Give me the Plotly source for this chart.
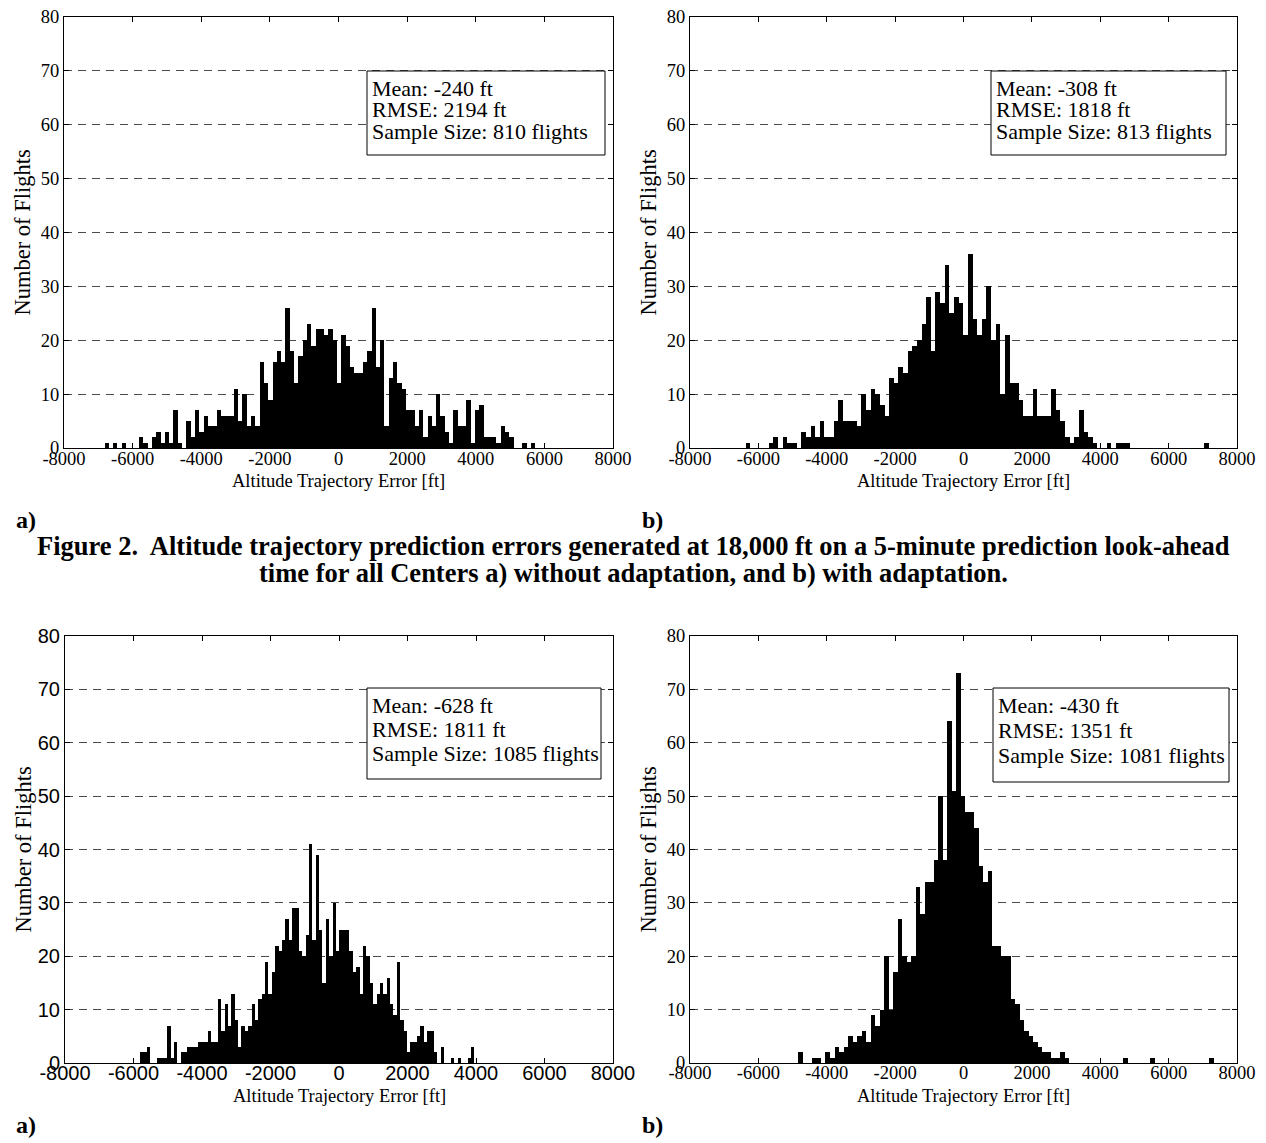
import plotly.graph_objects as go

W, H = 1266, 1143

# ---- histogram data: left edge of first bin [ft], bin width [ft], counts per bin ----
# 18,000 ft, without adaptation
top_a_start, top_a_width = -6818, 125.5
top_a_counts = [1, 0, 1, 0, 1, 0, 0, 0, 2, 1,
                0, 2, 3, 1, 3, 1, 7, 1, 0, 5,
                2, 7, 3, 6, 4, 4, 7, 6, 6, 6,
                11, 5, 10, 4, 6, 4, 16, 12, 9, 16,
                18, 16, 26, 18, 12, 17, 20, 23, 19, 22,
                22, 21, 22, 20, 12, 21, 19, 15, 14, 14,
                16, 18, 26, 15, 20, 4, 13, 16, 12, 11,
                7, 7, 4, 7, 2, 6, 4, 10, 6, 3,
                1, 7, 4, 4, 9, 1, 7, 8, 2, 2,
                2, 1, 4, 3, 2, 0, 0, 1, 0, 1]

# 18,000 ft, with adaptation
top_b_start, top_b_width = -6371, 135.4
top_b_counts = [1, 0, 0, 0, 0, 1, 2, 0, 2, 1,
                1, 0, 3, 2, 4, 2, 5, 2, 2, 5,
                9, 5, 5, 5, 4, 10, 7, 11, 10, 8,
                6, 13, 12, 15, 14, 18, 19, 20, 23, 28,
                18, 29, 27, 34, 25, 28, 27, 21, 36, 24,
                21, 24, 30, 20, 23, 10, 21, 12, 12, 9,
                6, 6, 11, 6, 6, 6, 11, 7, 5, 2,
                1, 2, 7, 3, 2, 1, 0, 0, 1, 0,
                1, 1, 1, 0, 0, 0, 0, 0, 0, 0,
                0, 0, 0, 0, 0, 0, 0, 0, 0, 1]

# second case, without adaptation
bot_a_start, bot_a_width = -5807, 98.6
bot_a_counts = [2, 2, 3, 0, 0, 1, 1, 1, 7, 1,
                4, 0, 2, 2, 3, 3, 3, 4, 4, 4,
                6, 4, 4, 12, 6, 11, 7, 13, 8, 3,
                7, 6, 7, 11, 8, 12, 13, 19, 13, 17,
                22, 21, 23, 27, 23, 29, 29, 21, 20, 24,
                41, 23, 39, 25, 15, 27, 20, 30, 21, 25,
                25, 25, 21, 17, 18, 13, 22, 20, 15, 11,
                13, 15, 13, 16, 11, 9, 19, 8, 6, 2,
                4, 4, 5, 7, 4, 6, 6, 2, 0, 3,
                0, 0, 1, 0, 1, 0, 0, 1, 3, 0]

# second case, with adaptation
bot_b_start, bot_b_width = -4829, 132.0
bot_b_counts = [2, 0, 0, 1, 1, 0, 2, 1, 3, 2,
                3, 5, 4, 5, 6, 4, 9, 7, 10, 20,
                10, 17, 27, 20, 19, 20, 33, 28, 34, 34,
                38, 50, 38, 64, 51, 73, 50, 47, 47, 44,
                37, 34, 36, 22, 22, 20, 20, 12, 11, 8,
                6, 5, 4, 3, 2, 2, 1, 1, 2, 1,
                0, 0, 0, 0, 0, 0, 0, 0, 0, 0,
                0, 0, 1, 0, 0, 0, 0, 0, 1, 0,
                0, 0, 0, 0, 0, 0, 0, 0, 0, 0,
                0, 1]

stat_lines = [
    ["Mean: -240 ft", "RMSE: 2194 ft", "Sample Size: 810 flights"],
    ["Mean: -308 ft", "RMSE: 1818 ft", "Sample Size: 813 flights"],
    ["Mean: -628 ft", "RMSE: 1811 ft", "Sample Size: 1085 flights"],
    ["Mean: -430 ft", "RMSE: 1351 ft", "Sample Size: 1081 flights"],
]

x_ticks = list(range(-8000, 8001, 2000))
x_ticktext = [str(v) for v in x_ticks]
y_ticks = list(range(0, 81, 10))

x_title = "Altitude Trajectory Error [ft]"
y_title = "Number of Flights"
caption_1 = "Figure 2.  Altitude trajectory prediction errors generated at 18,000 ft on a 5-minute prediction look-ahead"
caption_2 = "time for all Centers a) without adaptation, and b) with adaptation."

SERIF = "Liberation Serif, Times New Roman, serif"
SANS = "Liberation Sans, Arial, sans-serif"

# plot areas in pixels: left, top, right, bottom; statistics boxes likewise
panels = [
    dict(start=top_a_start, width=top_a_width, counts=top_a_counts,
         area=(64, 17, 613, 448), legend=(367, 71, 605, 155), first=88, pitch=22,
         tickfont=SERIF, tfs=18.5, standoff=-6),
    dict(start=top_b_start, width=top_b_width, counts=top_b_counts,
         area=(690, 17, 1237, 448), legend=(991, 71, 1226, 155), first=88, pitch=22,
         tickfont=SERIF, tfs=18.5, standoff=-6),
    dict(start=bot_a_start, width=bot_a_width, counts=bot_a_counts,
         area=(65, 636, 613, 1063), legend=(367, 688, 601, 779), first=705, pitch=24,
         tickfont=SANS, tfs=20, standoff=-8),
    dict(start=bot_b_start, width=bot_b_width, counts=bot_b_counts,
         area=(690, 636, 1237, 1063), legend=(993, 688, 1229, 782), first=705, pitch=25,
         tickfont=SERIF, tfs=18.5, standoff=-7),
]


def px(x):
    return x / W


def py(y):
    return 1 - y / H


fig = go.Figure()
annotations = []
shapes = []

for i, p in enumerate(panels, start=1):
    sfx = "" if i == 1 else str(i)
    centers = [p["start"] + (k + 0.5) * p["width"] for k in range(len(p["counts"]))]
    fig.add_trace(go.Bar(
        x=centers, y=p["counts"], width=p["width"],
        marker=dict(color="black", line=dict(width=0)),
        xaxis="x" + sfx, yaxis="y" + sfx,
        showlegend=False, hoverinfo="skip",
    ))
    left, top, right, bottom = p["area"]
    tick_font = dict(family=p["tickfont"], size=p["tfs"], color="black")
    fig.layout["xaxis" + sfx] = dict(
        domain=[px(left), px(right)], range=[-8000, 8000], anchor="y" + sfx,
        tickvals=x_ticks, ticktext=x_ticktext, ticks="inside", ticklen=5,
        tickcolor="black", showline=True, linecolor="black", linewidth=1,
        mirror="ticks", showgrid=False, zeroline=False, tickfont=tick_font,
        ticklabelstandoff=p["standoff"], automargin=False, fixedrange=True,
    )
    fig.layout["yaxis" + sfx] = dict(
        domain=[py(bottom), py(top)], range=[0, 80], anchor="x" + sfx,
        tickvals=y_ticks, ticks="inside", ticklen=5, tickcolor="black",
        showline=True, linecolor="black", linewidth=1, mirror="ticks",
        showgrid=True, gridcolor="#4a4a4a", gridwidth=1, griddash="8px,6px",
        zeroline=False, tickfont=tick_font, automargin=False, fixedrange=True,
    )

    # axis titles
    annotations.append(dict(
        x=px((left + right) / 2), y=py(bottom + 33), xref="paper", yref="paper",
        text=x_title, showarrow=False, xanchor="center", yanchor="middle",
        font=dict(family=SERIF, size=18.5, color="black"),
    ))
    annotations.append(dict(
        x=px(left - 42), y=py((top + bottom) / 2), xref="paper", yref="paper",
        text=y_title, showarrow=False, xanchor="center", yanchor="middle",
        textangle=-90, font=dict(family=SERIF, size=22.5, color="black"),
    ))

    # statistics box
    l0, t0, r0, b0 = p["legend"]
    shapes.append(dict(
        type="rect", xref="paper", yref="paper",
        x0=px(l0), x1=px(r0), y0=py(b0), y1=py(t0),
        line=dict(color="black", width=1), fillcolor="white", layer="above",
    ))
    for j, line in enumerate(stat_lines[i - 1]):
        annotations.append(dict(
            x=px(l0 + 3), y=py(p["first"] + j * p["pitch"]), xref="paper", yref="paper",
            text=line, showarrow=False, xanchor="left", yanchor="middle",
            font=dict(family=SERIF, size=22, color="black"),
        ))

# sub-figure labels
for (x, y, t) in [(14, 520, "a)"), (640, 520, "b)"), (14, 1125, "a)"), (640, 1125, "b)")]:
    annotations.append(dict(
        x=px(x), y=py(y), xref="paper", yref="paper", text="<b>" + t + "</b>",
        showarrow=False, xanchor="left", yanchor="middle",
        font=dict(family=SERIF, size=24, color="black"),
    ))

# caption
for (y, t) in [(546, caption_1), (573, caption_2)]:
    annotations.append(dict(
        x=px(633), y=py(y), xref="paper", yref="paper", text="<b>" + t + "</b>",
        showarrow=False, xanchor="center", yanchor="middle",
        font=dict(family=SERIF, size=26.5, color="black"),
    ))

fig.update_layout(
    width=W, height=H, autosize=False,
    margin=dict(l=0, r=0, t=0, b=0, autoexpand=False),
    paper_bgcolor="white", plot_bgcolor="white",
    bargap=0, annotations=annotations, shapes=shapes,
)

fig.write_html("out.html")
